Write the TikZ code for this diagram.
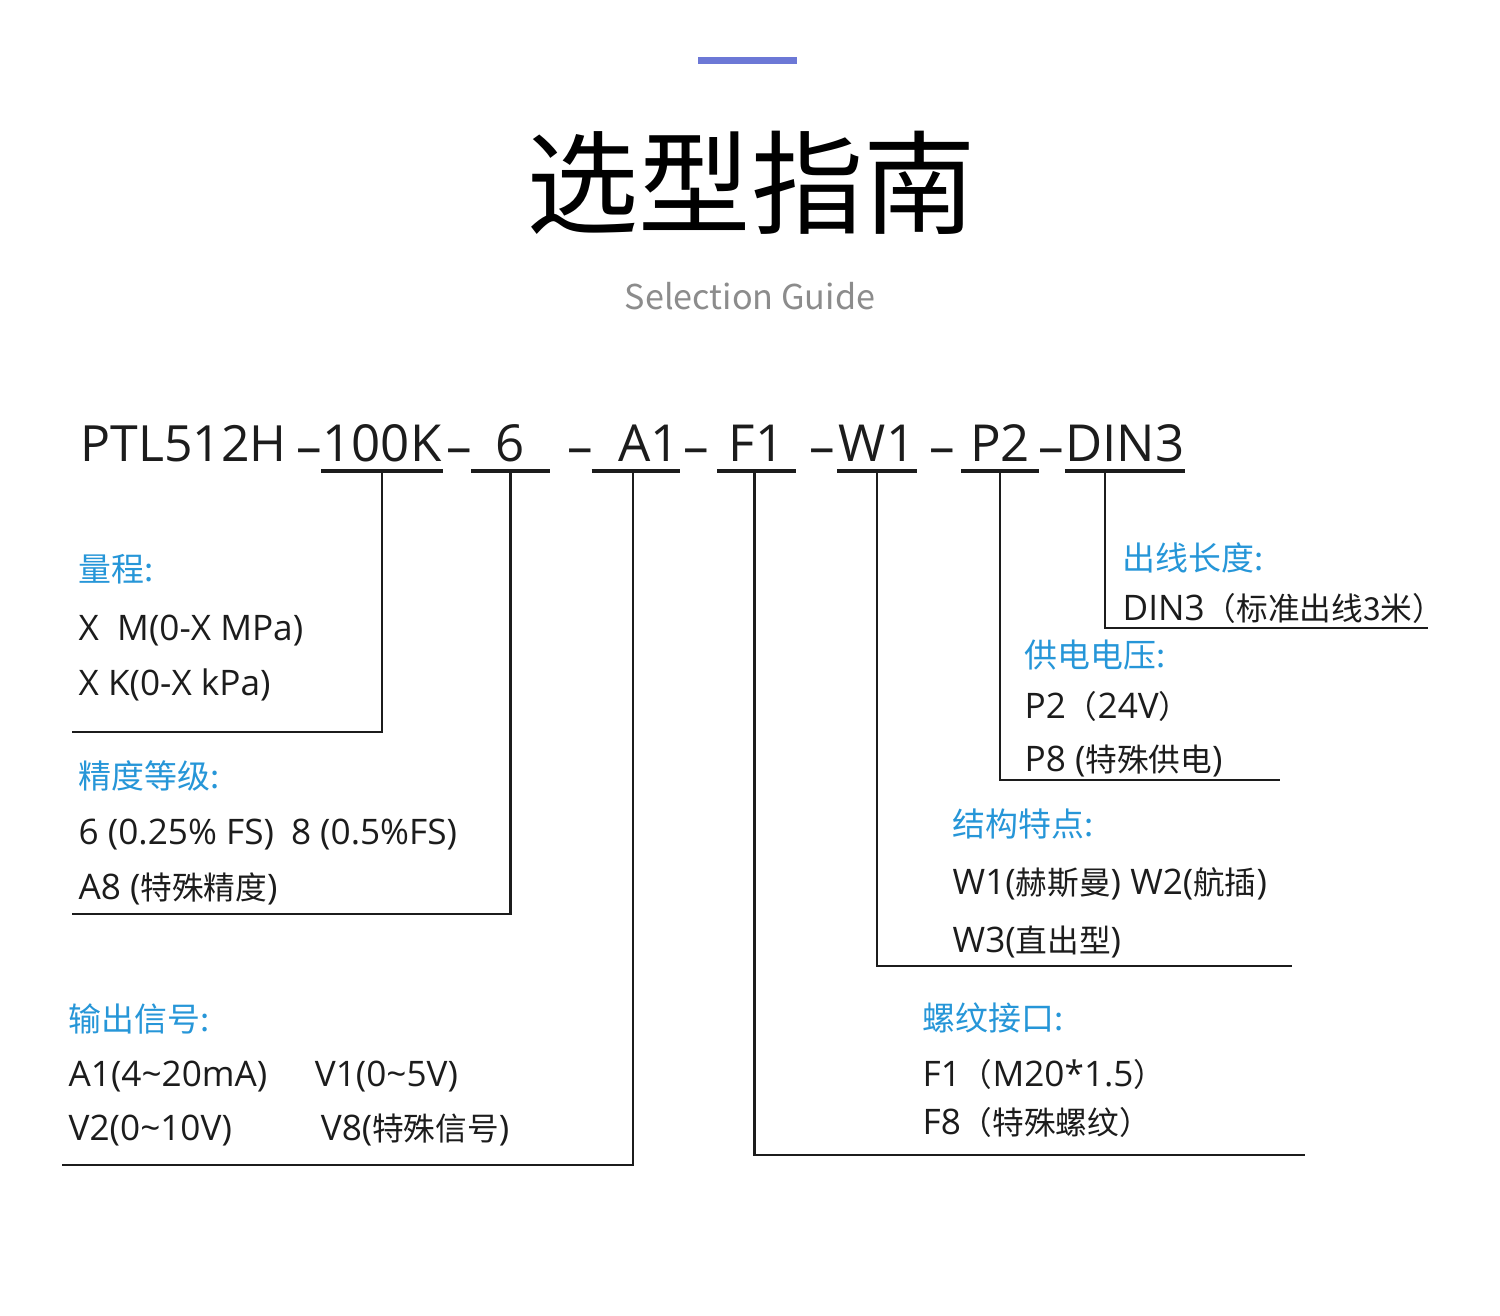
\documentclass[tikz,border=0pt]{standalone}
\usepackage{fontspec}
\setmainfont{Open Sans}
\newfontfamily\cjk[Scale=0.9]{Noto Sans CJK SC}
\usetikzlibrary{positioning, calc}
\definecolor{labelblue}{RGB}{38,150,216}
\definecolor{barblue}{RGB}{108,120,214}
\definecolor{textdark}{RGB}{28,28,28}
\definecolor{guidegray}{RGB}{140,140,140}

\begin{document}
\begin{tikzpicture}[x=0.01cm, y=-0.01cm,
  code/.style={font=\fontsize{14.5pt}{16pt}\selectfont, text=textdark, inner sep=0pt},
  seg/.style={code, anchor=base, text depth=0.08cm},
  sep/.style={code, anchor=base},
  ul/.style={line width=1.1pt, textdark},
  lead/.style={line width=0.75pt, textdark},
  head/.style={font=\cjk\fontsize{10.4pt}{12pt}\selectfont, text=labelblue, inner sep=0pt, anchor=base west},
  item/.style={font=\fontsize{10pt}{12pt}\selectfont, text=textdark, inner sep=0pt, anchor=base west}]
\fill[white] (0,0) rectangle (1500,1316);
\useasboundingbox (0,0) rectangle (1500,1316);

% header
\fill[barblue] (698,57) rectangle (797,64);
\node[font=\cjk\fontsize{35.5pt}{36pt}\selectfont, text=black] (title) at (751,183) {选型指南};
\node[font=\cjk\fontsize{10.8pt}{12pt}\selectfont, text=guidegray] (guide) at (750,296) {Selection Guide};

% model code
\node[code, anchor=base west, font=\fontsize{14.2pt}{16pt}\selectfont] (pn) at (80,462) {PTL512H};
\node[seg, minimum width=1.20cm] (rng) at (382,462) {100K};
\node[seg, minimum width=0.77cm] (acc) at (510.5,462) {6};
\node[seg, minimum width=0.78cm] (sig) at (636,462) {\hspace{0.26cm}A1};
\node[seg, minimum width=0.77cm] (fit) at (756.5,462) {F1};
\node[seg, minimum width=0.78cm] (cab) at (877,462) {W1};
\node[seg, minimum width=0.76cm] (pwr) at (1000,462) {P2};
\node[seg, minimum width=1.18cm] (len) at (1125,462) {DIN3};
\node[sep] (d1) at (309,465) {–};
\node[sep] (d2) at (459,465) {–};
\node[sep] (d3) at (580,465) {–};
\node[sep] (d4) at (696,465) {–};
\node[sep] (d5) at (822,465) {–};
\node[sep] (d6) at (942,465) {–};
\node[sep] (d7) at (1051,465) {–};
\foreach \s in {rng,acc,sig,fit,cab,pwr,len}
  \draw[ul] (\s.south west) -- (\s.south east);

% leader ends
\coordinate (rngEnd) at (72,732);
\coordinate (accEnd) at (72,914);
\coordinate (sigEnd) at (62,1165);
\coordinate (fitEnd) at (1305,1155);
\coordinate (cabEnd) at (1292,966);
\coordinate (pwrEnd) at (1280,780);
\coordinate (lenEnd) at (1428,628);
\draw[lead] (rng.south) |- (rngEnd);
\draw[lead] (acc.south) |- (accEnd);
\draw[lead] ([xshift=-0.03cm]sig.south) |- (sigEnd);
\draw[lead] ([xshift=-0.02cm]fit.south) |- (fitEnd);
\draw[lead] (cab.south) |- (cabEnd);
\draw[lead] (pwr.south) |- (pwrEnd);
\draw[lead] ([xshift=-0.2cm]len.south) |- (lenEnd);

% left blocks
\node[head] (hRng) at (78,582) {量程:};
\node[item] (rngA) at ([yshift=-0.58cm]hRng.base west) {X\ \ M(0-X MPa)};
\node[item] (rngB) at ([yshift=-0.55cm]rngA.base west) {X K(0-X kPa)};

\node[head] (hAcc) at (78,788) {精度等级:};
\node[item] (accA) at ([yshift=-0.56cm]hAcc.base west) {6 (0.25\% FS)\hspace{0.17cm}8 (0.5\%FS)};
\node[item] (accB) at ([yshift=-0.55cm]accA.base west) {A8 ({\cjk 特殊精度})};

\node[head] (hSig) at (68,1031) {输出信号:};
\node[item] (sigA) at ([yshift=-0.55cm]hSig.base west) {A1(4\textasciitilde 20mA)};
\node[item] (sigA2) at ([xshift=2.46cm]sigA.base west) {V1(0\textasciitilde 5V)};
\node[item] (sigB) at ([yshift=-0.54cm]sigA.base west) {V2(0\textasciitilde 10V)};
\node[item] (sigB2) at ([xshift=2.52cm]sigB.base west) {V8({\cjk 特殊信号})};

% right blocks
\node[head] (hLen) at (1122,571) {出线长度:};
\node[item] (lenA) at ([yshift=-0.49cm]hLen.base west) {DIN3{\cjk（标准出线3米）}};

\node[head] (hPwr) at (1024,668) {供电电压:};
\node[item] (pwrA) at ([yshift=-0.50cm]hPwr.base west) {P2{\cjk（}24V{\cjk）}};
\node[item] (pwrB) at ([yshift=-0.53cm]pwrA.base west) {P8 ({\cjk 特殊供电})};

\node[head] (hCab) at (952,836) {结构特点:};
\node[item] (cabA) at ([yshift=-0.58cm]hCab.base west) {W1({\cjk 赫斯曼}) W2({\cjk 航插})};
\node[item] (cabB) at ([yshift=-0.58cm]cabA.base west) {W3({\cjk 直出型})};

\node[head] (hFit) at (922,1030) {螺纹接口:};
\node[item] (fitA) at ([yshift=-0.56cm]hFit.base west) {F1{\cjk（}M20*1.5{\cjk）}};
\node[item] (fitB) at ([yshift=-0.48cm]fitA.base west) {F8{\cjk（特殊螺纹）}};
\end{tikzpicture}
\end{document}
